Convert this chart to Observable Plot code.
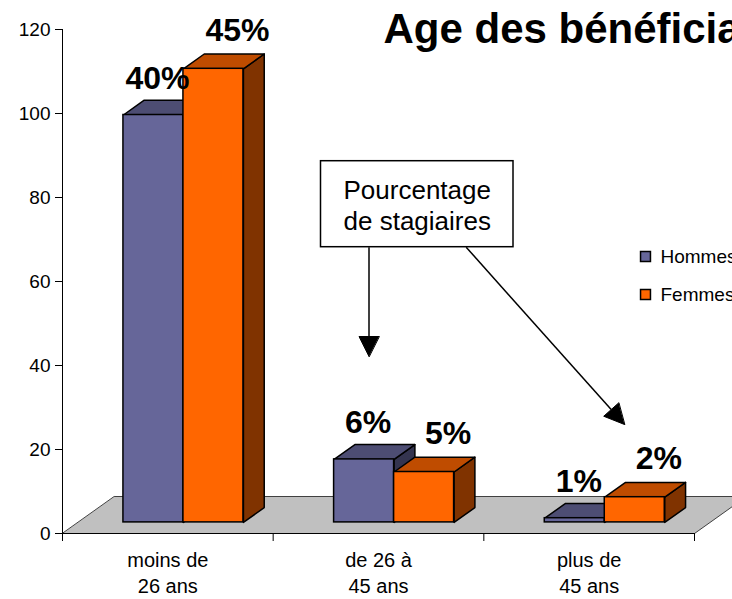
<!DOCTYPE html>
<html><head><meta charset="utf-8">
<script src="https://cdn.jsdelivr.net/npm/d3@7"></script>
<script src="https://cdn.jsdelivr.net/npm/@observablehq/plot@0.6"></script>
<style>html,body{margin:0;padding:0;overflow:hidden;background:#fff;}</style>
</head><body><div id="chart"></div>
<script>
// ---- data ----
const categories = ["moins de\n26 ans", "de 26 à\n45 ans", "plus de\n45 ans"];
const series = ["Hommes", "Femmes"];
const hommes = [97, 15, 1];
const femmes = [108, 12, 6];
const hommesLabels = ["40%", "6%", "1%"];
const femmesLabels = ["45%", "5%", "2%"];
const yTicks = [0, 20, 40, 60, 80, 100, 120];
const title = "Age des bénéficiaires";
const note = "Pourcentage\nde stagiaires";

// ---- styling / layout ----
const W = 732, H = 599, mL = 62, mR = 38, mT = 29, mB = 66, yMax = 120;
const nCat = categories.length;
const kx = (W - mL - mR) / nCat;      // px per category unit
const ky = (H - mT - mB) / yMax;      // px per value unit
const toX = px => (px - mL) / kx;
const toY = py => (H - mB - py) / ky;
const fdx = 52 / kx, fdy = 37 / ky;   // floor depth
const barW = 60 / kx;
const frontD = 0.3, backD = 0.7;
const colors = {
  Hommes: {front: "#666699", top: "#4d4d73", side: "#34344f"},
  Femmes: {front: "#ff6600", top: "#bf4c00", side: "#803300"}
};
const valuesBySeries = {Hommes: hommes, Femmes: femmes};
const labelsBySeries = {Hommes: hommesLabels, Femmes: femmesLabels};

const bars = [];
categories.forEach((c, i) => {
  series.forEach((s, j) => {
    const v = valuesBySeries[s][i];
    const x0 = i + 0.5 + frontD * fdx - barW + j * barW;
    const b = frontD * fdy;
    bars.push({cat: c, s, v, label: labelsBySeries[s][i], x0, x1: x0 + barW, b, t: b + v,
      bx: (backD - frontD) * fdx, by: (backD - frontD) * fdy});
  });
});
const tops = [], sides = [];
bars.forEach((d, k) => {
  const c = colors[d.s];
  [[d.x0, d.t], [d.x1, d.t], [d.x1 + d.bx, d.t + d.by], [d.x0 + d.bx, d.t + d.by]]
    .forEach(([x, y]) => tops.push({id: k, x, y, fill: c.top}));
  [[d.x1, d.b], [d.x1, d.t], [d.x1 + d.bx, d.t + d.by], [d.x1 + d.bx, d.b + d.by]]
    .forEach(([x, y]) => sides.push({id: k, x, y, fill: c.side}));
});
const floor = [[0, 0], [nCat, 0], [nCat + fdx, fdy], [fdx, fdy]].map(([x, y]) => ({x, y}));

// annotation box + arrows
const box = {x1: toX(320.5), x2: toX(513), y1: toY(246.7), y2: toY(160.7)};
const arrows = [
  {x1: toX(368.5), y1: box.y1, x2: toX(368.5), y2: toY(356)},
  {x1: toX(465.7), y1: box.y1, x2: toX(624), y2: toY(424)}
];
const headL = 20, headW = 20;
const shafts = [], heads = [];
arrows.forEach((a, k) => {
  const sx = mL + a.x1 * kx, sy = H - mB - a.y1 * ky;
  const tx = mL + a.x2 * kx, ty = H - mB - a.y2 * ky;
  const len = Math.hypot(tx - sx, ty - sy);
  const ux = (tx - sx) / len, uy = (ty - sy) / len;
  const bxp = tx - ux * headL, byp = ty - uy * headL;
  shafts.push({x1: a.x1, y1: a.y1, x2: toX(bxp), y2: toY(byp)});
  [[tx, ty], [bxp - uy * headW / 2, byp + ux * headW / 2], [bxp + uy * headW / 2, byp - ux * headW / 2]]
    .forEach(([px, py]) => heads.push({id: k, x: toX(px), y: toY(py)}));
});

const legendX = toX(645), legendY0 = toY(256), legendStep = 38 / ky;

const chart = Plot.plot({
  width: W, height: H,
  marginLeft: mL, marginRight: mR, marginTop: mT, marginBottom: mB,
  x: {domain: [0, nCat], axis: null},
  y: {domain: [0, yMax], axis: null},
  color: {type: "identity"},
  style: {fontFamily: "'Liberation Sans', Arial, sans-serif", color: "black", background: "white"},
  marks: [
    Plot.line(floor, {x: "x", y: "y", fill: "#c0c0c0", stroke: "#404040", strokeWidth: 1, curve: "linear-closed"}),
    Plot.ruleX([0], {y1: 0, y2: yMax, stroke: "black", strokeWidth: 1}),
    Plot.ruleY([0], {x1: 0, x2: nCat, stroke: "black", strokeWidth: 1.2}),
    Plot.axisY(yTicks, {tickSize: 7, tickPadding: 5, fontSize: 19, label: null, tickFormat: d => d}),
    Plot.axisX(d3.range(nCat + 1), {tickSize: 8, tickFormat: () => "", label: null}),
    Plot.text(categories, {x: (d, i) => i + 0.5, y: 0, text: d => d, lineAnchor: "top", dy: 15,
      lineHeight: 1.3, fontSize: 20, fill: "black"}),
    Plot.line(sides, {x: "x", y: "y", z: "id", fill: "fill", stroke: "black", strokeWidth: 1.5,
      curve: "linear-closed", strokeLinejoin: "round"}),
    Plot.line(tops, {x: "x", y: "y", z: "id", fill: "fill", stroke: "black", strokeWidth: 1.5,
      curve: "linear-closed", strokeLinejoin: "round"}),
    Plot.rect(bars, {x1: "x0", x2: "x1", y1: "b", y2: "t", fill: d => colors[d.s].front,
      stroke: "black", strokeWidth: 1.5}),
    Plot.text(bars.filter(d => d.s === "Hommes"), {x: d => (d.x0 + d.x1) / 2, y: "t", text: "label",
      dx: 4, dy: -26, lineAnchor: "bottom", fontSize: 32, fontWeight: "bold", fill: "black"}),
    Plot.text(bars.filter(d => d.s === "Femmes"), {x: d => (d.x0 + d.x1) / 2, y: "t", text: "label",
      dx: 24, dy: -28, lineAnchor: "bottom", fontSize: 32, fontWeight: "bold", fill: "black"}),
    Plot.rect([box], {x1: "x1", x2: "x2", y1: "y1", y2: "y2", fill: "white", stroke: "black", strokeWidth: 1.5}),
    Plot.text([note], {x: (box.x1 + box.x2) / 2, y: (box.y1 + box.y2) / 2, text: d => d,
      fontSize: 26, lineHeight: 31 / 26, fill: "black"}),
    Plot.link(shafts, {x1: "x1", y1: "y1", x2: "x2", y2: "y2", stroke: "black", strokeWidth: 1.5}),
    Plot.line(heads, {x: "x", y: "y", z: "id", fill: "black", stroke: "black", strokeWidth: 1, curve: "linear-closed"}),
    Plot.dot(series, {x: () => legendX, y: (d, i) => legendY0 - i * legendStep, symbol: "square", r: 5.6,
      fill: d => colors[d].front, stroke: "black", strokeWidth: 1.5}),
    Plot.text(series, {x: () => legendX, y: (d, i) => legendY0 - i * legendStep, text: d => d, dx: 15,
      textAnchor: "start", fontSize: 19, fill: "black"}),
    Plot.text([title], {frameAnchor: "top-left", dx: 321, dy: 13, lineAnchor: "bottom", textAnchor: "start",
      text: d => d, fontSize: 42, fontWeight: "bold", fill: "black"})
  ]
});
document.getElementById("chart").appendChild(chart);
</script>
</body></html>
